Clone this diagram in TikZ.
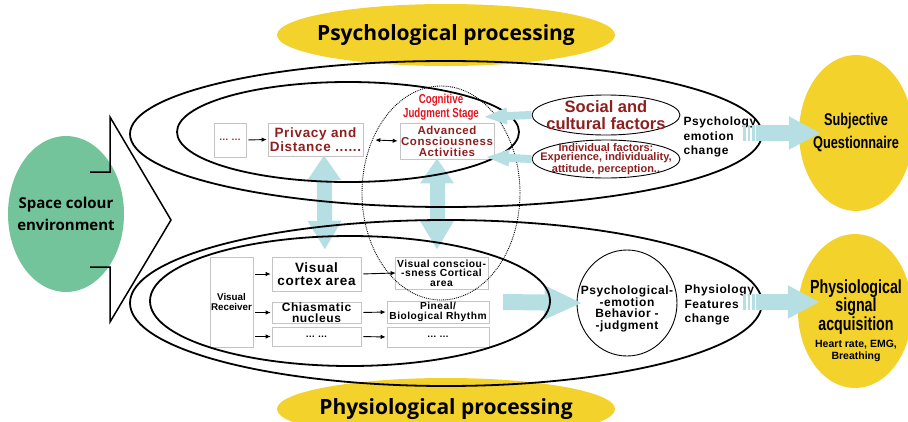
\documentclass[tikz,border=0pt]{standalone}
\usepackage{fontspec}
\setmainfont{Liberation Sans}
\newfontfamily\opensans{Open Sans}
\newfontfamily\narrowfont{Liberation Sans}[FakeStretch=0.75]
\newfontfamily\boxfont{Liberation Sans}[LetterSpace=5]
\usepackage{xcolor}
\usepackage{tikz}
\usetikzlibrary{arrows.meta}
\usetikzlibrary{calc}
\usetikzlibrary{shapes.geometric}

\definecolor{procyellow}{HTML}{F4D22C}
\definecolor{spacegreen}{HTML}{74C49B}
\definecolor{arrowblue}{HTML}{B5DFE3}
\definecolor{darkred}{HTML}{8E1F1F}
\definecolor{cogred}{HTML}{E3141E}
\definecolor{boxgray}{HTML}{C4C4C4}

\newcommand\fsz[2]{\fontsize{#1}{#2}\selectfont}

\begin{document}
\begin{tikzpicture}[
    x=1pt, y=-1pt,
    >={Latex[length=5pt,width=4.5pt]},
    blob/.style={ellipse, inner sep=0pt, align=center},
    stagebox/.style={draw=boxgray, line width=0.6pt, inner sep=0pt, align=center},
    loopline/.style={line width=1.8pt},
    flow/.style={->, line width=0.9pt, shorten <=2pt, shorten >=1pt},
    updown/.style={draw=arrowblue, line width=15pt,
      {Triangle[width=32pt,length=25pt]}-{Triangle[width=32pt,length=29pt]}},
    bigflow/.style={draw=arrowblue, line width=16pt,
      -{Triangle[width=31pt,length=#1]}},
    bigflow/.default=32pt,
    backflow/.style={draw=arrowblue, line width=8pt,
      -{Triangle[width=15pt,length=24pt]}},
  ]

  \useasboundingbox (0,0) rectangle (908,421);

  % filled blobs
  \node[blob, fill=procyellow, minimum width=338pt, minimum height=62pt,
    inner xsep=-15pt, font=\opensans\bfseries\fsz{21}{24}]
    (psyproc) at (446,35) {Psychological processing};
  \node[blob, fill=procyellow, minimum width=338pt, minimum height=62pt,
    inner xsep=-15pt, font=\opensans\bfseries\fsz{21}{24}]
    (phyproc) at (446,409) {Physiological processing};
  \node[blob, fill=spacegreen, minimum width=116pt, minimum height=156pt,
    inner xsep=-15pt, font=\opensans\bfseries\fsz{15}{22}]
    (space) at (66,214) {Space colour\\environment};
  \node[blob, fill=procyellow, minimum width=114pt, minimum height=156pt,
    inner xsep=-8pt, font=\narrowfont\bfseries\fsz{17}{23}]
    (subj) at (856,133) {Subjective\\Questionnaire};
  \node[blob, fill=procyellow, minimum width=114pt, minimum height=154pt]
    (acq) at (855,311) {};
  \node[align=center, font=\narrowfont\bfseries\fsz{19}{16.5}]
    (acqtxt) at (856,307) {Physiological\\signal\\acquisition};
  \node[align=center, font=\bfseries\fsz{10.5}{11.5}]
    (acqlist) at (856,351) {Heart rate, EMG,\\Breathing};

  % psychological stages
  \node[stagebox, minimum width=32pt, minimum height=34pt, text=darkred,
    font=\bfseries\fsz{9.5}{10}] (more1) at (230,140) {… …};
  \node[stagebox, minimum width=95pt, minimum height=33pt, text=darkred,
    font=\boxfont\bfseries\fsz{13.5}{14}] (privacy) at (315.5,139.5)
    {Privacy and\\Distance ......};
  \node[stagebox, minimum width=94pt, minimum height=36pt, text=darkred,
    font=\boxfont\bfseries\fsz{11.5}{11}] (advanced) at (447,141)
    {Advanced\\Consciousness\\Activities};
  \node[text=cogred, align=center, font=\narrowfont\bfseries\fsz{13}{13.5}]
    (cognitive) at (441,107) {Cognitive\\Judgment Stage};
  \node[blob, draw, line width=0.9pt, minimum width=148pt, minimum height=40pt,
    inner xsep=-10pt, inner ysep=-4pt, text=darkred,
    font=\bfseries\fsz{16.5}{17.5}] (social) at (606,115)
    {Social and\\cultural factors};
  \node[blob, draw, line width=0.9pt, minimum width=148pt, minimum height=38pt,
    inner xsep=-16pt, inner ysep=-3pt, text=darkred,
    font=\bfseries\fsz{11}{9.5}] (individual) at (606,159)
    {Individual factors:\\Experience, individuality,\\attitude, perception..};
  \node[anchor=west, align=left, font=\boxfont\bfseries\fsz{12}{14.5}]
    (psychange) at (680,137) {Psychology\\emotion\\change};

  % physiological stages
  \node[stagebox, minimum width=43pt, minimum height=90pt,
    font=\bfseries\fsz{9.8}{10}] (receiver) at (231.5,302) {Visual\\Receiver};
  \node[stagebox, minimum width=89pt, minimum height=34pt,
    font=\boxfont\bfseries\fsz{13.5}{13}] (cortex) at (316.5,274)
    {Visual\\cortex area};
  \node[stagebox, minimum width=89pt, minimum height=21pt,
    font=\boxfont\bfseries\fsz{12}{11}] (chiasm) at (316.5,312.5)
    {Chiasmatic\\nucleus};
  \node[stagebox, minimum width=89pt, minimum height=19pt,
    font=\bfseries\fsz{9.5}{10}] (more2) at (316.5,336.5) {… …};
  \node[stagebox, minimum width=93pt, minimum height=32pt,
    font=\boxfont\bfseries\fsz{10.3}{9.5}] (vconsc) at (441.5,273)
    {Visual consciou-\\-sness Cortical\\area};
  \node[stagebox, minimum width=102pt, minimum height=22pt,
    font=\boxfont\bfseries\fsz{10.2}{10}] (pineal) at (438,312)
    {Pineal/\\Biological Rhythm};
  \node[stagebox, minimum width=102pt, minimum height=20pt,
    font=\bfseries\fsz{9.5}{10}] (more3) at (438,337) {… …};
  \node[blob, draw, line width=0.9pt, minimum width=100pt, minimum height=106pt]
    (behave) at (627,303) {};
  \node[align=center, font=\boxfont\bfseries\fsz{12}{11.5}]
    (behavetxt) at (627,309) {Psychological-\\-emotion\\Behavior -\\-judgment};
  \node[anchor=west, align=left, font=\boxfont\bfseries\fsz{12}{14.5}]
    (phychange) at (681,305) {Physiology\\Features\\change};

  % wide arrows under the loops
  \draw[updown, shorten <=-1pt, shorten >=7pt]
    ([xshift=8.5pt]privacy.south) -- ([xshift=8.5pt]cortex.north);
  \draw[updown, shorten <=-1pt, shorten >=7pt]
    ([xshift=-10pt]advanced.south) -- ([xshift=-4.5pt]vconsc.north);
  \coordinate (bodystart) at (503,302);
  \draw[bigflow=38pt] (bodystart) -- ([xshift=6pt]behave.west);

  % loops
  \draw[loopline] (446,134) ellipse [x radius=316pt, y radius=73pt];
  \draw[loopline] (348,132) ellipse [x radius=171pt, y radius=50pt];
  \draw[loopline] (446,303) ellipse [x radius=316pt, y radius=83pt];
  \draw[loopline] (350,301) ellipse [x radius=200pt, y radius=65pt];
  \draw[densely dotted, line width=0.9pt]
    (441,193) ellipse [x radius=79pt, y radius=107pt];

  % callout from the environment
  \draw[line width=1.5pt] (90,172) -- (110,172) -- (110,117) -- (171,220)
    -- (110,322) -- (110,267) -- (90,267);

  % small arrows
  \draw[flow] (more1.east) -- (privacy.west);
  \draw[<->, line width=0.9pt, shorten <=12pt, shorten >=2pt]
    (privacy.east) -- (advanced.west);
  \draw[flow] (receiver.east |- cortex) -- (cortex.west);
  \draw[flow] (receiver.east |- chiasm) -- (chiasm.west);
  \draw[flow] (receiver.east |- more2) -- (more2.west);
  \draw[flow, shorten <=2pt, shorten >=-1pt] (cortex.east) -- (vconsc.west);
  \draw[flow] (chiasm.east) -- (pineal.west);
  \draw[flow] (more2.east) -- (more3.west);

  % wide arrows on top
  \coordinate (cogtip) at (483,117);
  \coordinate (indtip) at (485,157);
  \draw[backflow] (social.west) -- (cogtip);
  \draw[backflow] (individual.west) -- (indtip);

  \coordinate (psyout) at (755.5,133);
  \coordinate (phyout) at (755.5,302);
  \foreach \sx in {743,747.5,752} {
    \fill[arrowblue] (\sx,125) rectangle (\sx+2.5,141);
    \fill[arrowblue] (\sx,294) rectangle (\sx+2.5,310);
  }
  \draw[bigflow] (psyout) -- ([xshift=22pt]subj.west);
  \draw[bigflow] (phyout) -- ($(phyout -| acq.west)+(22,0)$);

\end{tikzpicture}
\end{document}
